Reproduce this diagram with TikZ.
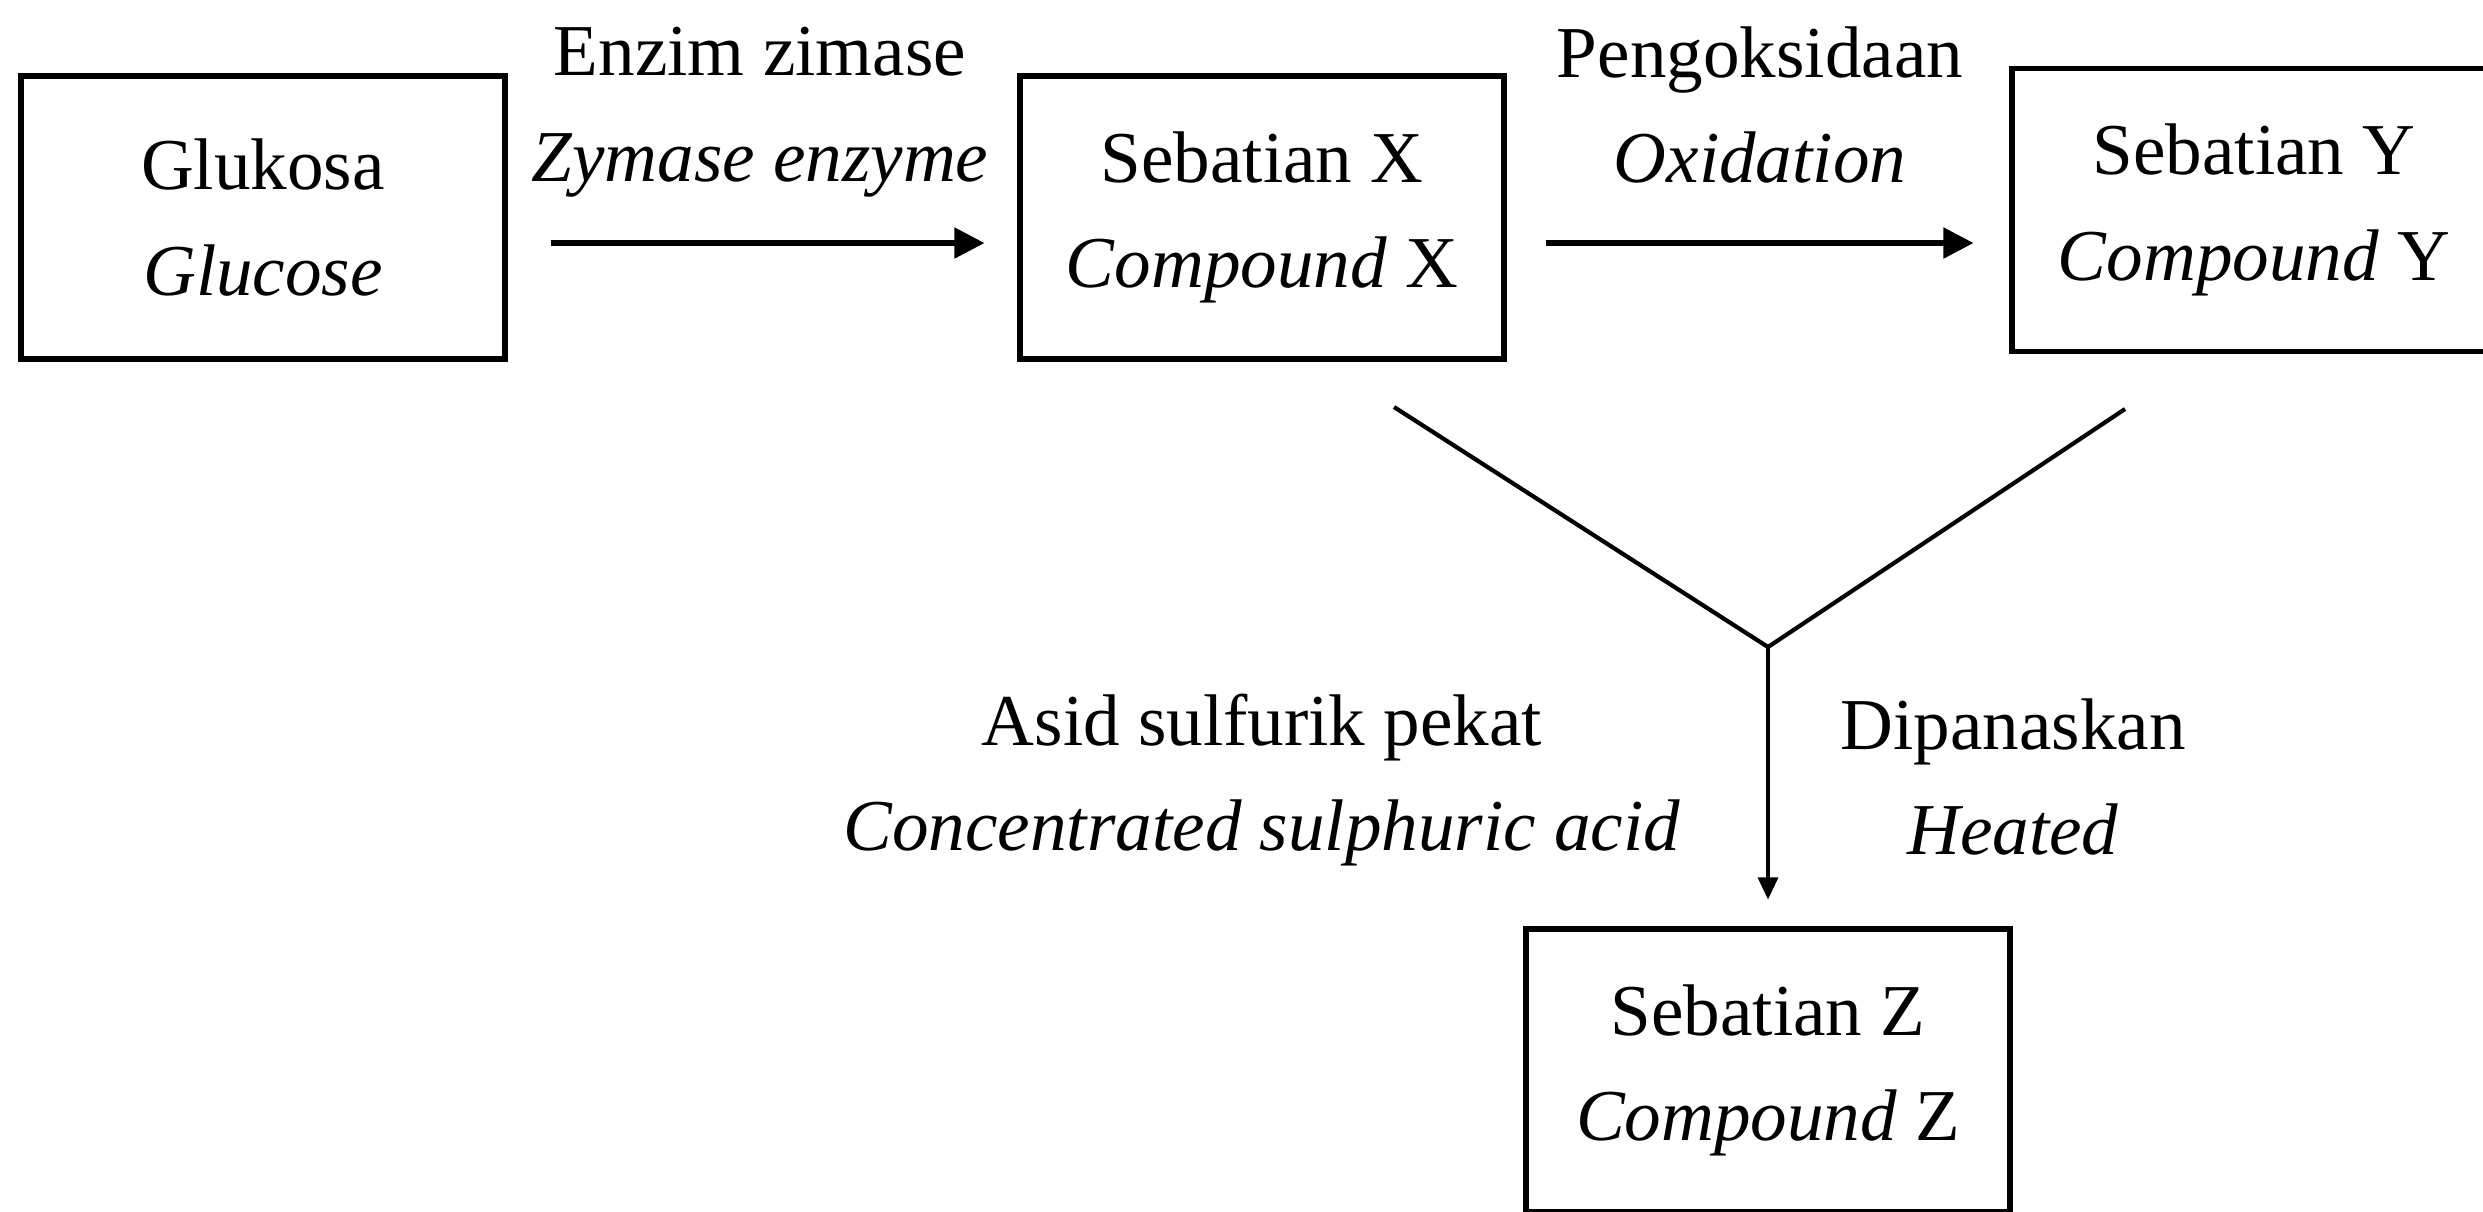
\documentclass[tikz,border=0pt]{standalone}
\usepackage{fontspec}
\setmainfont{Liberation Serif}
\usetikzlibrary{arrows.meta}

\begin{document}
\begin{tikzpicture}
	\tikzstyle{every node}=[align=center,inner sep=0pt,font=\fontsize{20.8}{30}\selectfont]
	\tikzstyle{kotak}=[draw,line width=1.45pt,minimum width=4.84cm,minimum height=2.83cm]
	\tikzstyle{anak}=[line width=1.45pt,-{Triangle[length=0.3cm,width=0.3cm]}]
	\useasboundingbox (0,0) rectangle (24.83,-12.11);
	% kotak sebatian
	\node[kotak] (glukosa) at (2.63,-2.175) {Glukosa\\\textit{Glucose}};
	\node[kotak] (sebX) at (12.62,-2.175) {Sebatian X\\\textit{Compound} X};
	\node[kotak] (sebY) at (22.54,-2.10) {Sebatian Y\\\textit{Compound} Y};
	\node[kotak] (sebZ) at (17.68,-10.705) {Sebatian Z\\\textit{Compound} Z};
	% syarat tindak balas
	\node (enzim) at (7.60,-1.12) {Enzim zimase\\\textit{Zymase enzyme}};
	\node (oksida) at (17.60,-1.05) {Pengoksidaan\\\textit{Oxidation}};
	\node (asid) at (12.62,-7.80) {Asid sulfurik pekat\\\textit{Concentrated sulphuric acid}};
	\node (panas) at (20.13,-7.77) {Dipanaskan\\\textit{Heated}};
	\draw[anak] ([shift={(0.43,-0.255)}]glukosa.east) -- ([shift={(-0.33,-0.255)}]sebX.west);
	\draw[anak] ([shift={(0.39,-0.255)}]sebX.east) -- ([shift={(-0.36,-0.33)}]sebY.west);
	% cabang Y
	\coordinate (kiri) at (13.94,-4.07);
	\coordinate (kanan) at (21.25,-4.09);
	\coordinate (simpang) at (17.68,-6.47);
	\draw[line width=1.2pt] (kiri) -- (simpang) -- (kanan);
	\draw[line width=0.9pt,-{Triangle[length=0.22cm,width=0.2cm]},shorten >=0.27cm] (simpang) -- (sebZ.north);
\end{tikzpicture}
\end{document}
